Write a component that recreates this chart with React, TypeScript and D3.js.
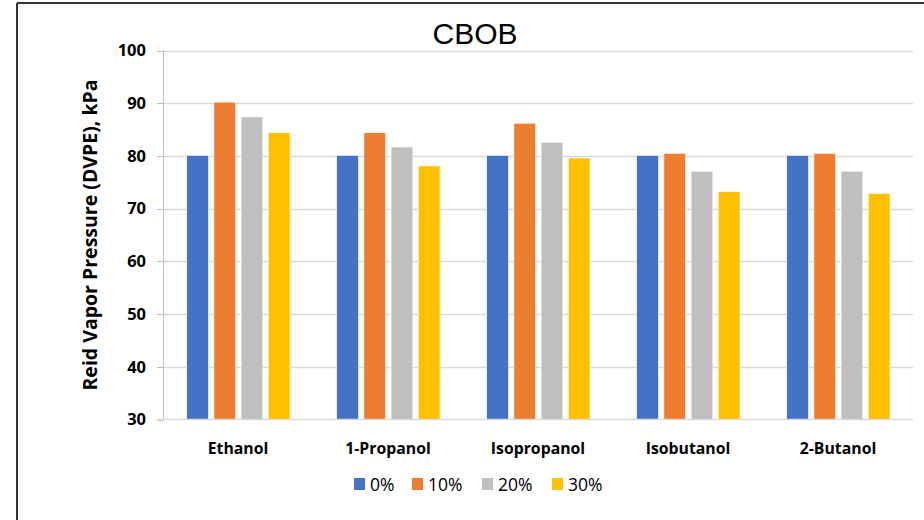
import React from "react";
import * as d3 from "d3";

const categories = ["Ethanol", "1-Propanol", "Isopropanol", "Isobutanol", "2-Butanol"];
const seriesNames = ["0%", "10%", "20%", "30%"];
const colors = ["#4472C4", "#ED7D31", "#BFBFBF", "#FFC000"];
const values0 = [80.1, 80.1, 80.1, 80.1, 80.1];
const values10 = [90.2, 84.4, 86.2, 80.5, 80.5];
const values20 = [87.4, 81.7, 82.6, 77.1, 77.1];
const values30 = [84.4, 78.1, 79.6, 73.2, 72.9];
const yTicks = [30, 40, 50, 60, 70, 80, 90, 100];
const title = "CBOB";
const yLabel = "Reid Vapor Pressure (DVPE), kPa";

const allSeries = [values0, values10, values20, values30];

export default function App() {
  const W = 924, H = 520;
  const left = 163, right = 913, top = 50.5, bottom = 419.5;
  const x0 = d3.scaleBand<string>().domain(categories).range([left, right]).padding(0);
  const bw = x0.bandwidth();
  const x1 = d3.scaleBand<string>().domain(seriesNames)
    .range([bw * 0.14, bw * 0.865]).paddingInner(0.2).paddingOuter(0.1);
  const y = d3.scaleLinear().domain([30, 100]).range([bottom, top]);
  const font = "'Open Sans', 'Noto Sans', sans-serif";

  const legendX = [354, 412, 482, 552];

  return (
    <svg width={W} height={H} style={{ position: "absolute", left: 0, top: 0, background: "#fff" }}>
      <rect x={0} y={0} width={W} height={H} fill="#fff" />
      <line x1={17} y1={3} x2={W} y2={3} stroke="#333" strokeWidth={2} />
      <line x1={17} y1={3} x2={17} y2={H} stroke="#333" strokeWidth={2} />
      <text x={475} y={44} textAnchor="middle" fontFamily="'Liberation Sans', Arial, sans-serif" fontSize={30} fill="#000">{title}</text>
      {yTicks.map(t => (
        <g key={t}>
          {t !== 30 && <line x1={left} x2={right} y1={Math.round(y(t)) + 0.5} y2={Math.round(y(t)) + 0.5} stroke="#D9D9D9" strokeWidth={1.3} />}
          <line x1={left - 6} x2={left} y1={Math.round(y(t)) + 0.5} y2={Math.round(y(t)) + 0.5} stroke="#BFBFBF" strokeWidth={1} />
          <text x={146} y={y(t)} dy="0.35em" textAnchor="end" fontFamily={font} fontWeight="bold" fontSize={16.5} fill="#000">{t}</text>
        </g>
      ))}
      <line x1={left + 0.5} x2={left + 0.5} y1={top} y2={bottom} stroke="#BFBFBF" strokeWidth={1} />
      {categories.map((c, ci) => (
        <g key={c}>
          {allSeries.map((vals, si) => (
            <rect key={si}
              x={(x0(c) as number) + (x1(seriesNames[si]) as number)}
              y={y(vals[ci])}
              width={x1.bandwidth()}
              height={y(30) - y(vals[ci])}
              fill={colors[si]} stroke="#fff" strokeWidth={0.6} />
          ))}
          <text x={(x0(c) as number) + bw / 2} y={448} dy="0.35em" textAnchor="middle" fontFamily={font} fontWeight="bold" fontSize={15.8} fill="#000">{c}</text>
        </g>
      ))}
      <line x1={left - 6} x2={right} y1={bottom} y2={bottom} stroke="#D9D9D9" strokeWidth={1.3} />
      <text transform={`translate(90, ${(top + bottom) / 2}) rotate(-90)`} textAnchor="middle" dy="0.35em" fontFamily={font} fontWeight="bold" fontSize={19.5} fill="#000">{yLabel}</text>
      {seriesNames.map((s, i) => (
        <g key={s}>
          <rect x={legendX[i]} y={478} width={11} height={12} fill={colors[i]} />
          <text x={legendX[i] + 16} y={484.5} dy="0.35em" fontFamily={font} fontSize={17.5} fill="#000">{s}</text>
        </g>
      ))}
    </svg>
  );
}
